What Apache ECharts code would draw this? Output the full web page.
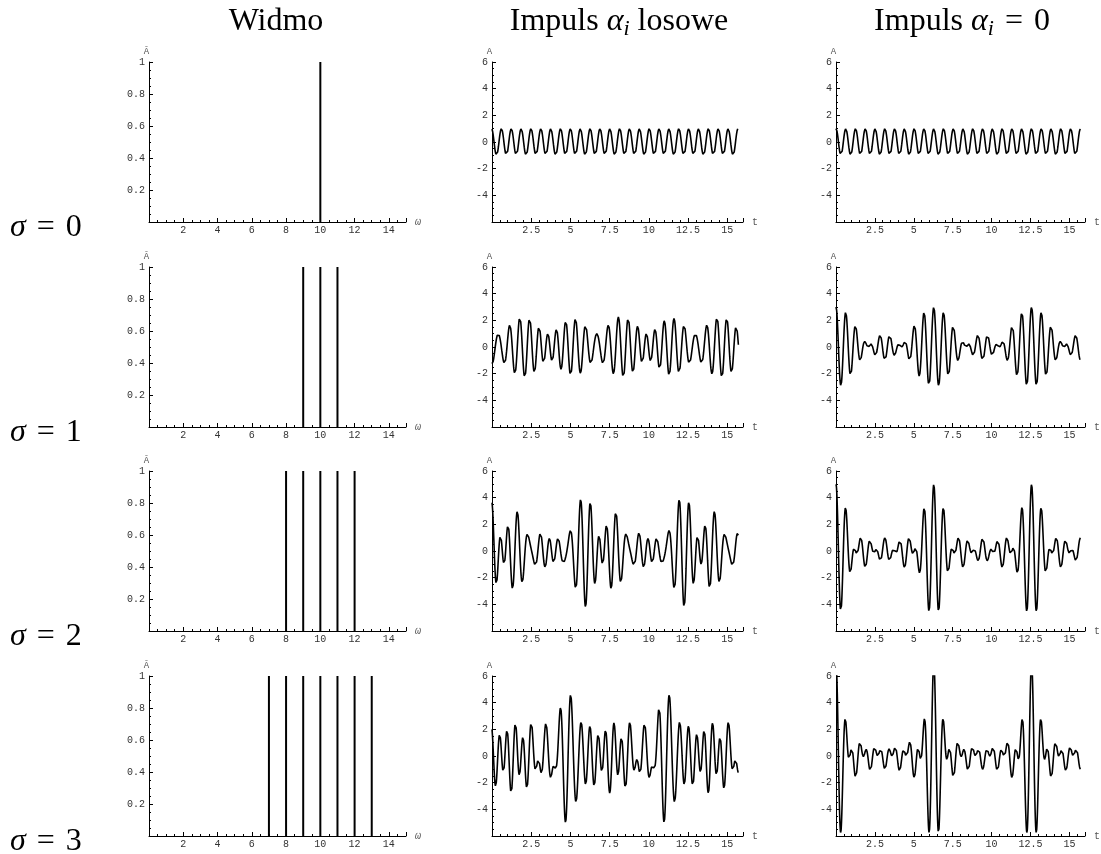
<!DOCTYPE html>
<html>
<head>
<meta charset="utf-8">
<script src="https://cdn.jsdelivr.net/npm/echarts@6/dist/echarts.min.js"></script>
<style>
  html, body { margin: 0; background: #fff; }
  #chart { width: 1101px; height: 854px; }
</style>
</head>
<body>
<div id="chart"></div>
<script>
// spectrum per row (sigma = 0..3): frequencies, amplitudes, phases
var sigmas = [0, 1, 2, 3];
var freqRows = [
  [10],
  [9, 10, 11],
  [8, 9, 10, 11, 12],
  [7, 8, 9, 10, 11, 12, 13]
];
var ampRows = [
  [1],
  [1, 1, 1],
  [1, 1, 1, 1, 1],
  [1, 1, 1, 1, 1, 1, 1]
];
// "losowe" phases, estimated from the extrema of the reference curves
var randPhaseRows = [
  [0.27],
  [2.71, 2.17, -1.35],
  [-0.59, -1.04, 0.92, 0.76, 0.31],
  [1.56, -2.23, -0.86, 0.10, 1.49, 1.60, -0.45]
];
var zeroPhaseRows = [
  [0],
  [0, 0, 0],
  [0, 0, 0, 0, 0],
  [0, 0, 0, 0, 0, 0, 0]
];

var tMax = 5 * Math.PI;
var tStep = 0.005;

// the impulse is the sum of the spectrum lines
function signal(freqs, amps, phases) {
  var pts = [];
  for (var t = 0; t <= tMax + 1e-9; t += tStep) {
    var v = 0;
    for (var k = 0; k < freqs.length; k++) v += amps[k] * Math.cos(freqs[k] * t + phases[k]);
    pts.push([t, v]);
  }
  return pts;
}

var colLeft = [149, 492, 836];
var colWidth = [257, 251, 254];
var rowTop = [62, 267, 471, 676];
var rowH = 160;

var mono = 'Liberation Mono, DejaVu Sans Mono, monospace';
var labelStyle = { fontFamily: mono, fontSize: 10, color: '#333' };

var grids = [], xAxes = [], yAxes = [], series = [];
sigmas.forEach(function (s, r) {
  for (var c = 0; c < 3; c++) {
    var gi = grids.length;
    grids.push({ left: colLeft[c], top: rowTop[r], width: colWidth[c], height: rowH });
    var spec = c === 0;
    xAxes.push({
      gridIndex: gi, type: 'value',
      min: 0, max: spec ? 15 : 16, interval: spec ? 2 : 2.5,
      name: spec ? 'ω' : 't', nameLocation: 'end', nameGap: 9,
      nameTextStyle: { fontFamily: mono, fontSize: 10, color: '#555', fontStyle: spec ? 'italic' : 'normal' },
      axisLine: { onZero: false, lineStyle: { color: '#000', width: 1 } },
      axisTick: { inside: true, length: 4, lineStyle: { color: '#000' } },
      minorTick: { show: true, splitNumber: spec ? 4 : 5, length: 2, lineStyle: { color: '#000' } },
      axisLabel: Object.assign({ showMinLabel: false, showMaxLabel: false, margin: 3 }, labelStyle),
      splitLine: { show: false }
    });
    yAxes.push({
      gridIndex: gi, type: 'value',
      min: spec ? 0 : -6, max: spec ? 1 : 6, interval: spec ? 0.2 : 2,
      name: spec ? 'Ā' : 'A', nameLocation: 'end', nameGap: 6,
      nameTextStyle: { fontFamily: mono, fontSize: 9, color: '#555', align: 'center', padding: [0, 5, 0, 0] },
      axisLine: { onZero: false, lineStyle: { color: '#000', width: 1 } },
      axisTick: { inside: true, length: 4, lineStyle: { color: '#000' } },
      minorTick: { show: true, splitNumber: 4, length: 2, lineStyle: { color: '#000' } },
      axisLabel: Object.assign({ showMinLabel: false, margin: 4 }, labelStyle),
      splitLine: { show: false }
    });
    var freqs = freqRows[r], amps = ampRows[r];
    if (spec) {
      series.push({
        type: 'bar', xAxisIndex: gi, yAxisIndex: gi, barWidth: 2,
        itemStyle: { color: '#000' },
        data: freqs.map(function (w, k) { return [w, amps[k]]; })
      });
    } else {
      var ph = c === 1 ? randPhaseRows[r] : zeroPhaseRows[r];
      series.push({
        type: 'line', xAxisIndex: gi, yAxisIndex: gi, showSymbol: false, clip: true,
        lineStyle: { color: '#000', width: 1.6 },
        data: signal(freqs, amps, ph)
      });
    }
  }
});

var serif = 'Liberation Serif, DejaVu Serif, serif';
var bigRich = {
  n: { fontFamily: serif, fontSize: 32, color: '#000', lineHeight: 36 },
  e: { fontFamily: serif, fontSize: 32, color: '#000', lineHeight: 36, width: 40, align: 'center' },
  g: { fontFamily: serif, fontSize: 32, fontStyle: 'italic', color: '#000', lineHeight: 36 },
  s: { fontFamily: serif, fontSize: 22, fontStyle: 'italic', color: '#000', lineHeight: 20, verticalAlign: 'bottom' }
};
var graphics = [
  { type: 'text', x: 276, y: 22, style: { text: 'Widmo', font: '32px ' + serif, fill: '#000', align: 'center', verticalAlign: 'middle' } },
  { type: 'text', x: 619, y: 22, style: { text: '{n|Impuls }{g|α}{s|i}{n| losowe}', rich: bigRich, align: 'center', verticalAlign: 'middle' } },
  { type: 'text', x: 962, y: 22, style: { text: '{n|Impuls }{g|α}{s|i}{e|=}{n|0}', rich: bigRich, align: 'center', verticalAlign: 'middle' } }
];
var sigmaY = [228, 433, 637, 842];
sigmas.forEach(function (s, r) {
  graphics.push({ type: 'text', x: 10, y: sigmaY[r], style: { text: '{g|σ}{e|=}{n|' + s + '}', rich: bigRich, align: 'left', verticalAlign: 'middle' } });
});

var chart = echarts.init(document.getElementById('chart'), null, { renderer: 'canvas' });
chart.setOption({
  animation: false,
  backgroundColor: '#fff',
  grid: grids, xAxis: xAxes, yAxis: yAxes, series: series,
  graphic: graphics
});
</script>
</body>
</html>
